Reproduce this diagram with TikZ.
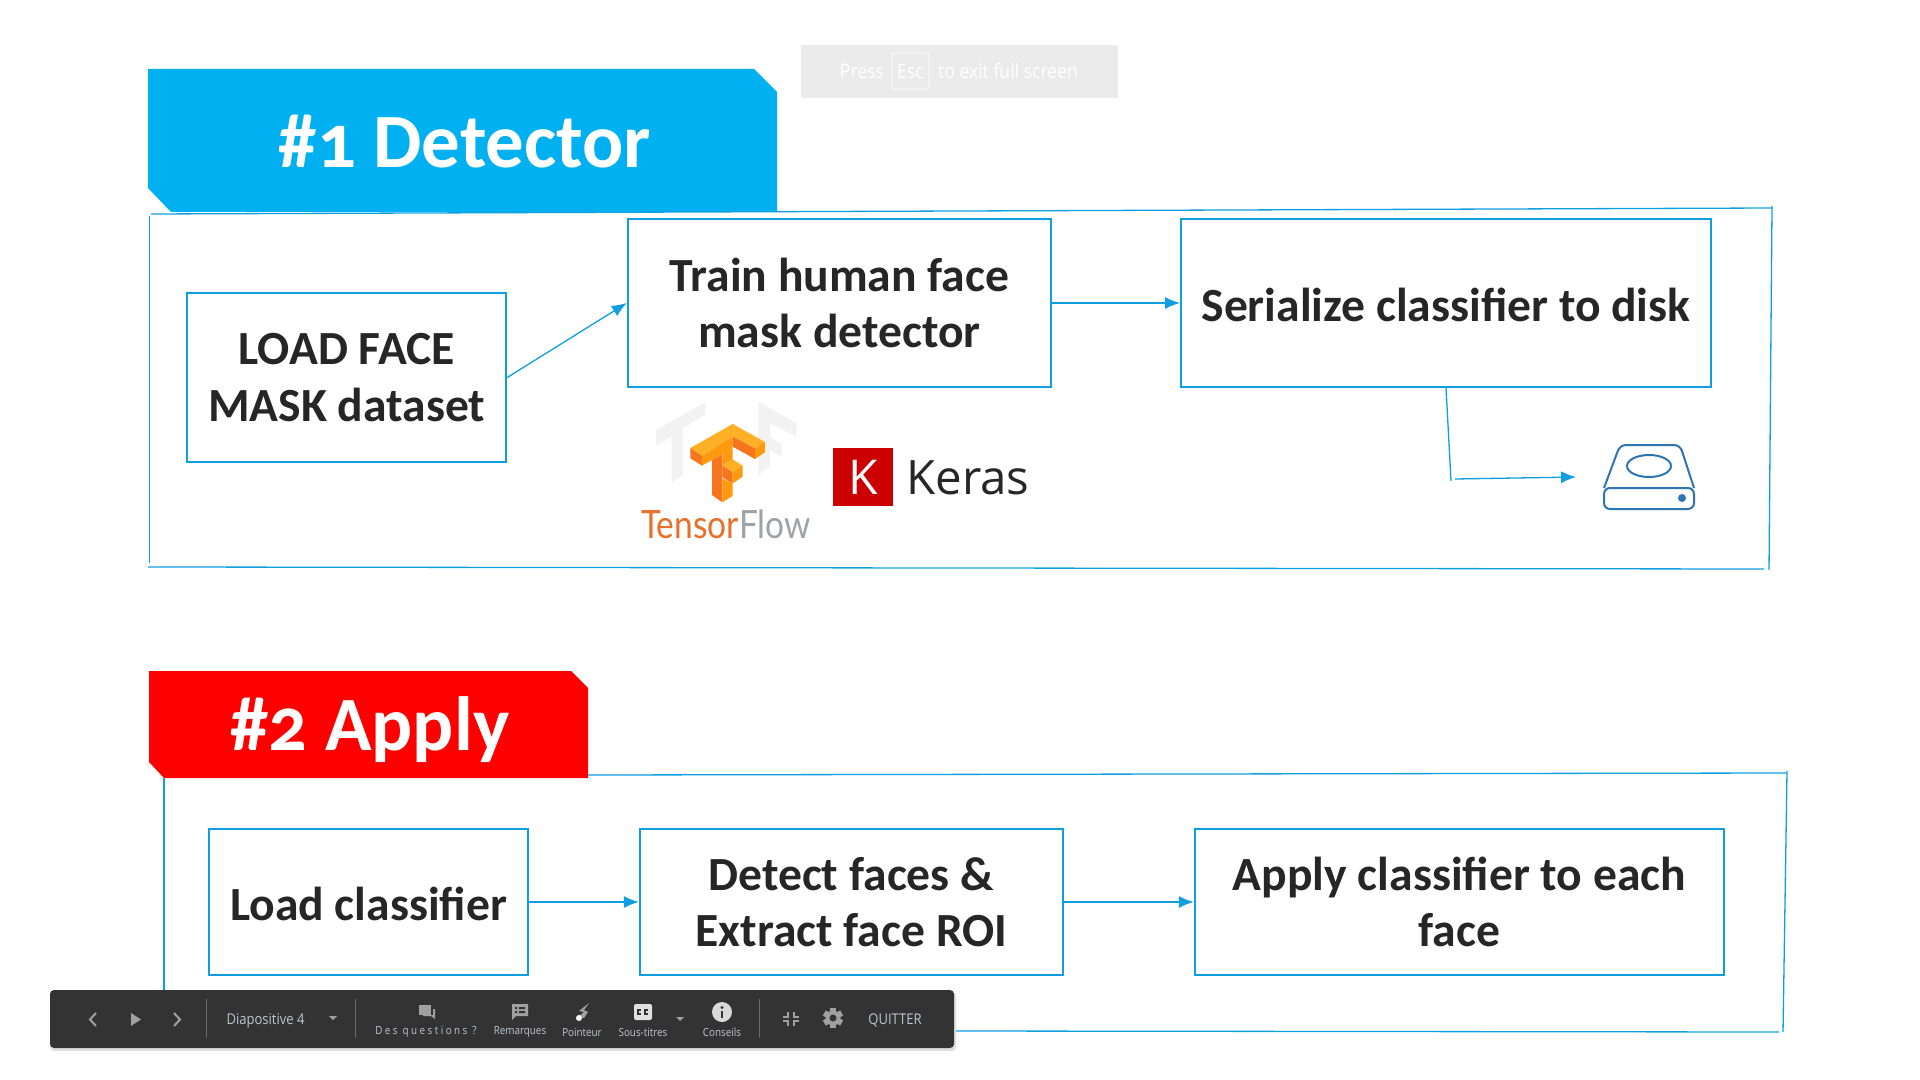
\documentclass[tikz,border=0pt]{standalone}
\usepackage{fontspec}
\usetikzlibrary{arrows.meta}
\setmainfont{Carlito}[Numbers=OldStyle]
\newfontfamily\barfont[FakeStretch=0.88]{Open Sans}
\newfontfamily\logofont{Open Sans}
\newfontfamily\flowfont[FakeStretch=0.86]{Lato}
\definecolor{lineblue}{HTML}{0F9FE0}
\definecolor{tagblue}{HTML}{00B0F0}
\definecolor{diskblue}{HTML}{2E75B6}
\definecolor{textdark}{HTML}{262626}
\definecolor{barback}{HTML}{333333}
\definecolor{bartext}{HTML}{BCC6CF}
\definecolor{icongray}{HTML}{A0A0A0}
\definecolor{tflight}{HTML}{FFB027}
\definecolor{tfmid}{HTML}{FF9A0E}
\definecolor{tfdark}{HTML}{F5761F}
\begin{document}
\begin{tikzpicture}[x=0.5pt,y=-0.5pt]
\tikzset{edge/.style = {-{Latex[length=7.5pt,width=6pt]},draw=lineblue,line width=0.65pt}}
\tikzset{frameline/.style = {draw=lineblue,line width=0.65pt}}
\tikzset{boxbase/.style = {draw=lineblue,line width=1pt,align=center,inner sep=0pt,text=textdark,
  font=\fontsize{23.8}{24}\selectfont\bfseries,minimum height=84pt}}
\tikzset{boxnode/.style = {boxbase,execute at begin node={\rule{0pt}{25pt}}}}
\tikzset{boxline/.style = {boxbase,execute at begin node={\rule{0pt}{18.8pt}}}}
\tikzset{tagtext/.style = {text=white,font=\fontsize{38.4}{40}\selectfont\bfseries,inner sep=0pt,anchor=base}}
\tikzset{barlabel/.style = {text=bartext,font=\barfont\fontsize{5.6}{6}\selectfont,inner sep=0pt}}
\tikzset{bartitle/.style = {text=bartext,font=\barfont\fontsize{7.4}{8}\selectfont,inner sep=0pt}}
\tikzset{presstext/.style = {text=white,font=\barfont\fontsize{10}{10}\selectfont,inner sep=0pt}}
\tikzset{barsep/.style = {draw=icongray!50!barback,line width=0.5pt}}
\path [use as bounding box,fill=white] (0,0) rectangle (1920,1080);

% section one
\fill [tagblue] (148,69) -- (754,69) -- (777,92) -- (777,212) -- (171,212) -- (148,188) -- cycle;
\node [tagtext] at (465,167.5)(tagA) {\#1 Detector};
\draw [frameline] (151,214) -- (1772,208);
\draw [frameline] (149.5,216) -- (149.5,563);
\draw [frameline] (1772,206) -- (1769,570);
\draw [frameline] (148,567) -- (1764,569);

\node [boxnode,minimum width=159.6pt,minimum height=84.5pt] at (346.6,377.5)(loadset) {LOAD FACE\\[4.2pt]MASK dataset};
\node [boxnode,minimum width=211.6pt] at (839.4,303)(train) {Train human face\\[4.2pt]mask detector};
\node [boxline,minimum width=265pt] at (1446,303)(serial) {Serialize classifier to disk};
\coordinate (bendA) at (1451,481);
\coordinate (bendB) at (1455,479);
\coordinate (diskin) at (1576,477);
\draw [edge] (loadset.east) -- (train.west);
\draw [edge] (train.east) -- (serial.west);
\draw [frameline] (serial.south) -- (bendA);
\draw [edge] (bendB) -- (diskin);

% disk
\draw [diskblue,line width=1pt,rounded corners=3pt] (1604,488) -- (1620,445) -- (1680,445) -- (1694,488);
\draw [diskblue,line width=1pt,rounded corners=3pt] (1604,488) -- (1604,509) -- (1694,509) -- (1694,488) -- cycle;
\draw [diskblue,line width=1pt] (1649,466) ellipse (22 and 11);
\fill [diskblue] (1682,498) circle (4);

% tensorflow logo
\begin{scope}[shift={(640,395)},scale=0.3333]
\fill [black!5] (48,105) -- (195,22) -- (195,60) -- (128,100) -- (128,240) -- (95,262) -- (95,125) -- (48,152) -- cycle;
\fill [black!5] (355,20) -- (470,85) -- (470,125) -- (390,85) -- (390,125) -- (425,150) -- (425,185) -- (390,165) -- (390,215) -- (355,240) -- cycle;
\fill [tflight] (278,87) -- (375,141) -- (345,160) -- (278,125) -- (186,183) -- (151,159) -- cycle;
\fill [tfdark] (151,159) -- (186,183) -- (186,212) -- (151,190) -- cycle;
\fill [tfmid] (186,183) -- (278,125) -- (278,160) -- (186,212) -- cycle;
\fill [tfdark] (216,195) -- (247,178) -- (247,322) -- (216,300) -- cycle;
\fill [tfmid] (247,178) -- (278,160) -- (278,193) -- (247,212) -- cycle;
\fill [tfmid] (247,250) -- (278,265) -- (278,303) -- (247,322) -- cycle;
\fill [tflight] (247,212) -- (278,193) -- (308,212) -- (278,232) -- cycle;
\fill [tfdark] (247,212) -- (278,232) -- (278,265) -- (247,247) -- cycle;
\fill [tfmid] (278,232) -- (308,212) -- (308,245) -- (278,265) -- cycle;
\fill [tfdark] (278,125) -- (345,160) -- (345,192) -- (278,155) -- cycle;
\fill [tfmid] (345,160) -- (375,141) -- (375,172) -- (345,192) -- cycle;
\end{scope}
\node [inner sep=0pt,anchor=base,font=\flowfont\fontsize{19.5}{20}\selectfont] at (726,538)(tflabel)
  {\textcolor[HTML]{E8702A}{Tensor}\textcolor[HTML]{9EA3A8}{Flow}};
\fill [red!80!black] (833,448) rectangle (893,506);
\node [inner sep=0pt,text=white,font=\logofont\fontsize{24}{24}\selectfont] at (863,477)(kmark) {K};
\node [inner sep=0pt,anchor=base west,text=textdark,font=\logofont\fontsize{23.7}{24}\selectfont] at (906,494)(keras) {Keras};

% section two
\fill [red] (149,671) -- (571,671) -- (588,688) -- (588,778) -- (164,778) -- (149,762) -- cycle;
\node [tagtext] at (370,750)(tagB) {\#2 Apply};
\draw [frameline] (588,775) -- (1787,773);
\draw [frameline] (164,778) -- (164,992);
\draw [frameline] (1787,771) -- (1783,1032);
\draw [frameline] (953,1031) -- (1779,1032);

\node [boxline,minimum width=159.5pt,minimum height=73pt] at (368.5,902)(loadclf) {Load classifier};
\node [boxnode,minimum width=211.6pt,minimum height=73pt] at (851.4,902)(detect) {Detect faces \&\\[4.2pt]Extract face ROI};
\node [boxnode,minimum width=264.6pt,minimum height=73pt] at (1459.4,902)(apply) {Apply classifier to each\\[4.2pt]face};
\draw [edge] (loadclf.east) -- (detect.west);
\draw [edge] (detect.east) -- (apply.west);

% full screen notice
\fill [black!8] (801,45) rectangle (1118,98);
\draw [white,line width=0.4pt,rounded corners=1pt] (892,53) rectangle (929,89);
\node [presstext] at (862,71)(pressA) {Press};
\node [presstext] at (910.5,71)(pressB) {Esc};
\node [presstext] at (1008,71)(pressC) {to exit full screen};

% toolbar
\fill [black!12,rounded corners=2pt] (50,992) rectangle (956,1051);
\fill [barback,rounded corners=2pt] (50,990) rectangle (954,1048);
\draw [barsep] (206,999) -- (206,1038);
\draw [barsep] (355,999) -- (355,1038);
\draw [barsep] (759,999) -- (759,1038);
\draw [icongray,line width=1pt] (96,1013) -- (90,1019.5) -- (96,1026);
\fill [icongray] (131,1013) -- (141,1019.5) -- (131,1026) -- cycle;
\draw [icongray,line width=1pt] (174,1013) -- (180,1019.5) -- (174,1026);
\node [bartitle] at (265.5,1021)(slide) {Diapositive 4};
\fill [icongray] (329,1016) -- (337,1016) -- (333,1020) -- cycle;
\node [barlabel] at (426,1032)(qlabel) {\addfontfeature{LetterSpace=22}Des questions ?};
\node [barlabel] at (520,1032)(rlabel) {Remarques};
\node [barlabel] at (582,1032)(plabel) {Pointeur};
\node [barlabel] at (643,1032)(slabel) {Sous-titres};
\node [barlabel] at (722,1032)(clabel) {Conseils};
\node [bartitle] at (895,1020)(quit) {QUITTER};

% questions
\fill [icongray] (419,1005) rectangle (431,1015);
\fill [icongray] (433,1009) -- (435,1009) -- (435,1019) -- (431,1016) -- (423,1016) -- (423,1015) -- (433,1015) -- cycle;
% notes
\fill [icongray] (512,1004) -- (528,1004) -- (528,1016) -- (516,1016) -- (512,1020) -- cycle;
\fill [barback] (515,1007) rectangle (517,1009) (519,1007) rectangle (525,1009);
\fill [barback] (515,1011) rectangle (517,1013) (519,1011) rectangle (525,1013);
% pointer
\fill [icongray] (589,1003) -- (579,1011) -- (584,1012) -- (578,1017) -- (584,1018) -- (588,1012) -- (584,1010) -- cycle;
\fill [white] (579,1018) circle (3);
% captions
\fill [black!12,rounded corners=1pt] (634,1004) rectangle (652,1020);
\draw [barback,line width=0.7pt] (641,1010) -- (638,1010) -- (638,1014) -- (641,1014);
\draw [barback,line width=0.7pt] (648,1010) -- (645,1010) -- (645,1014) -- (648,1014);
\fill [icongray] (676,1017) -- (684,1017) -- (680,1021) -- cycle;
% tips
\fill [black!15] (722,1012) circle (10);
\fill [barback] (720.7,1011) rectangle (723.3,1018);
\fill [barback] (722,1007.5) circle (1.6);
% exit
\draw [icongray,line width=1pt] (788,1012) -- (788,1017) -- (783,1017);
\draw [icongray,line width=1pt] (794,1012) -- (794,1017) -- (799,1017);
\draw [icongray,line width=1pt] (788,1026) -- (788,1021) -- (783,1021);
\draw [icongray,line width=1pt] (794,1026) -- (794,1021) -- (799,1021);
% settings
\foreach \ang in {0,60,120} {
  \fill [icongray,rotate around={\ang:(833,1018)}] (830,1008) rectangle (836,1028);
}
\fill [icongray] (833,1018) circle (7.5);
\fill [barback] (833,1018) circle (3.5);
\end{tikzpicture}
\end{document}
